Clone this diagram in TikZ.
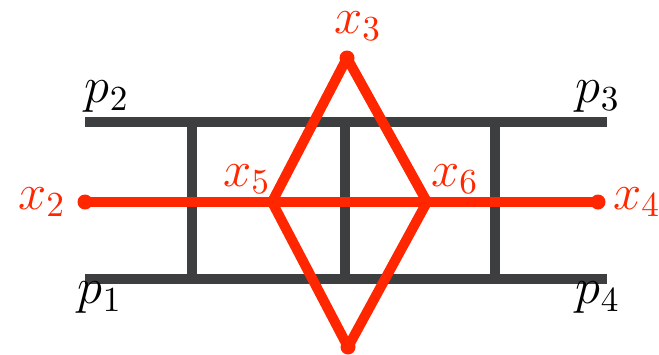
\documentclass[tikz,border=0pt]{standalone}
\usepackage{amsmath}
\usepackage{xcolor}
\usepackage{tikz}
\definecolor{ladder}{HTML}{3D3E40}
\definecolor{redline}{HTML}{FF2600}
\tikzset{rail/.style={draw=ladder, line width=0.1cm},
         redwire/.style={draw=redline, line width=0.1cm, line cap=round, line join=round},
         rlabel/.style={text=redline, font=\Large, inner sep=1pt},
         plabel/.style={font=\Large, inner sep=1pt}}

\begin{document}
\begin{tikzpicture}
\useasboundingbox (0,0) rectangle (6.59,3.54);
% ladder corners
\coordinate (p1) at (0.85,0.75);
\coordinate (p2) at (0.85,2.32);
\coordinate (p3) at (6.07,2.32);
\coordinate (p4) at (6.07,0.75);
\draw[rail] (p2) -- (p3);
\draw[rail] (p1) -- (p4);
\foreach \xx in {1.92,3.45,4.95}
  \draw[rail] (\xx,0.75) -- (\xx,2.32);
%
\coordinate (x2) at (0.85,1.52);
\coordinate (x5) at (2.72,1.52);
\coordinate (x6) at (4.27,1.52);
\coordinate (x4) at (5.98,1.52);
\coordinate (x3) at (3.47,2.96);
\coordinate (xb) at (3.48,0.07);
%
\draw[redwire] (x2) -- (x5) -- (x6) -- (x4);
\draw[redwire] (x5) -- (x3) -- (x6);
\draw[redwire] (x5) -- (xb) -- (x6);
\foreach \pt in {x2,x4,x3,xb}
  \fill[redline] (\pt) circle (0.075);
%
\node[rlabel] (lx3) at (3.58,3.28) {$x_3$};
\node[rlabel] (lx2) at (0.42,1.52) {$x_2$};
\node[rlabel] (lx4) at (6.37,1.52) {$x_4$};
\node[rlabel] (lx5) at (2.47,1.75) {$x_5$};
\node[rlabel] (lx6) at (4.55,1.75) {$x_6$};
%
\node[plabel] (lp2) at (1.07,2.57) {$p_2$};
\node[plabel] (lp3) at (5.98,2.57) {$p_3$};
\node[plabel] (lp1) at (1.00,0.56) {$p_1$};
\node[plabel] (lp4) at (5.98,0.56) {$p_4$};
\end{tikzpicture}
\end{document}
